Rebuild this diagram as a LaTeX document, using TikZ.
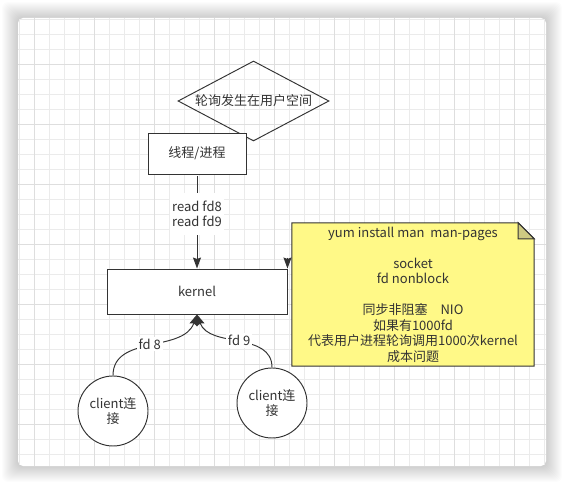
\documentclass[tikz,border=0pt]{standalone}
\usepackage{fontspec}
\setmainfont{Noto Sans CJK SC}
\usetikzlibrary{arrows.meta,shapes.geometric}
\newcommand{\pollFont}{\fontsize{13}{15.5}\selectfont}
\newcommand{\pollInk}{black!80}
\newcommand{\pollNote}{yellow!47!white}
\newcommand{\pollFold}{yellow!47!white!78!black}
\newcommand{\pollGrid}{black!8}
\newcommand{\pollMajor}{black!13}
\tikzset{
  pollshape/.style={draw=\pollInk, line width=0.95pt, text=\pollInk, font=\pollFont, align=center},
  pollbox/.style={pollshape, rectangle, fill=white, inner sep=0pt},
  polldia/.style={pollshape, diamond, aspect=1.9, inner sep=0pt,
                  minimum width=151pt, minimum height=80pt},
  pollcirc/.style={pollshape, circle, fill=white, minimum size=70pt, inner sep=0pt},
  polllab/.style={fill=white, text=\pollInk, font=\pollFont, align=center, inner sep=2pt},
  pollarr/.style={draw=\pollInk, line width=0.95pt, -{Stealth[length=11pt,width=8pt,inset=1.5pt]}},
  pollnote/.style={minimum width=242pt, minimum height=143pt, inner sep=0pt},
  pollnotetext/.style={text=\pollInk, font=\pollFont, align=center},
  pollgrid/.style={draw=\pollGrid, line width=0.8pt},
  pollmajor/.style={draw=\pollMajor, line width=0.8pt},
}

\begin{document}
\begin{tikzpicture}[x=1pt,y=1pt]
  \useasboundingbox (0,0) rectangle (564,484);
  \foreach \s in {16,15,...,1}
    \fill[black, opacity=0.012, rounded corners=6pt] (18-\s,18-\s) rectangle (546+\s,466+\s);
  \fill[white, rounded corners=5pt] (18,18) rectangle (546,466);
  \begin{scope}
    \clip[rounded corners=5pt] (18,18) rectangle (546,466);
    \foreach \gx in {19,34,...,544} \draw[pollgrid] (\gx,18) -- (\gx,466);
    \foreach \gy in {30,45,...,465} \draw[pollgrid] (18,\gy) -- (546,\gy);
    \foreach \gx in {34,94,...,514} \draw[pollmajor] (\gx,18) -- (\gx,466);
    \foreach \gy in {60,120,...,420} \draw[pollmajor] (18,\gy) -- (546,\gy);
  \end{scope}

  \node[polldia] (poll) at (253.5,383) {轮询发生在用户空间};
  \node[pollbox, minimum width=98pt, minimum height=41pt] (thread) at (197,330.5) {线程/进程};
  \node[pollbox, minimum width=180pt, minimum height=45pt] (kernel) at (197,192.5) {kernel};
  \node[pollcirc] (cli8) at (113,73) {client连\\接};
  \node[pollcirc] (cli9) at (272,81) {client连\\接};

  \node[pollnote] (notebox) at (413,189.5) {};
  \filldraw[fill=\pollNote, draw=\pollInk, line width=0.95pt]
    (notebox.north west) -- ([xshift=-16pt]notebox.north east) -- ([yshift=-16pt]notebox.north east)
    -- (notebox.south east) -- (notebox.south west) -- cycle;
  \filldraw[fill=\pollFold, draw=\pollInk, line width=0.95pt]
    ([xshift=-16pt]notebox.north east) -- ([xshift=-16pt,yshift=-16pt]notebox.north east)
    -- ([yshift=-16pt]notebox.north east) -- cycle;
  \node[pollnotetext] (note) at (notebox) {yum install man\ \ man-pages\\~\\socket\\fd nonblock\\~\\
    同步非阻塞\hspace{1em}NIO\\如果有1000fd\\代表用户进程轮询调用1000次kernel\\成本问题};

  \draw[pollarr, shorten <=2pt] (thread) -- node[polllab, pos=0.42, inner ysep=8pt] {read fd8\\read fd9} (kernel);
  \draw[pollarr] (cli8) to[out=90, in=-110] node[polllab] {fd 8} (kernel.south);
  \draw[pollarr] (cli9) to[out=90, in=-70] node[polllab] {fd 9} (kernel.south);
  \coordinate (notetip) at ([yshift=11pt]kernel.north east);
  \draw[pollarr] (notetip) -- (kernel.north east);
\end{tikzpicture}
\end{document}
